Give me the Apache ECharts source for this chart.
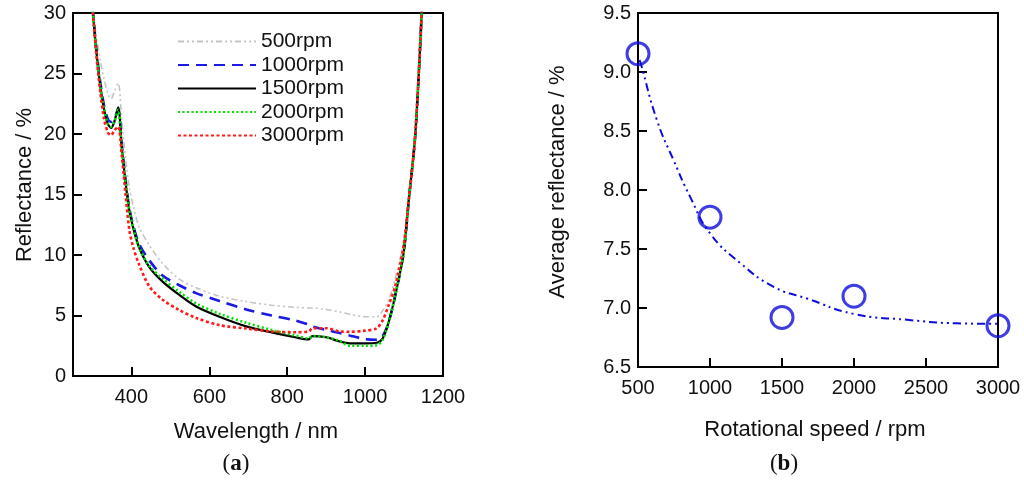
<!DOCTYPE html>
<html>
<head>
<meta charset="utf-8">
<script src="https://cdn.jsdelivr.net/npm/echarts@6.0.0/dist/echarts.min.js"></script>
<style>
html,body{margin:0;padding:0;background:#fff;}
#chart{width:1024px;height:482px;}
</style>
</head>
<body>
<div id="chart"></div>
<script>
// ---- Panel (a): reflectance spectra ----
var wavelength = [300,310,320,330,340,348,356,366,375,385,395,405,420,446,480,523,566,626,695,760,820,855,865,900,935,960,1000,1030,1045,1060,1077,1099,1112,1129,1146];
var r500  = [30.5,28.0,26.1,24.5,23.3,22.9,23.5,24.2,21.2,18.0,15.5,14.0,12.3,10.8,9.3,8.0,7.3,6.6,6.15,5.85,5.68,5.62,5.62,5.5,5.3,5.1,4.9,4.9,5.4,6.3,8.0,11.2,15.0,20.5,30.5];
var r1000 = [30.5,27.0,24.3,22.3,21.2,21.0,21.3,22.0,19.2,16.2,13.8,12.4,10.9,9.55,8.3,7.5,6.85,6.2,5.5,5.0,4.6,4.25,4.1,3.8,3.55,3.35,3.05,3.0,3.3,4.4,6.6,10.2,14.5,20.0,30.5];
var r1500 = [30.5,26.8,24.0,22.0,20.8,20.5,21.0,22.2,19.0,16.0,13.6,12.2,10.6,9.0,7.8,6.7,5.75,4.9,4.1,3.6,3.2,3.02,3.3,3.2,2.85,2.7,2.7,2.75,3.1,4.4,6.6,10.2,14.5,20.0,30.5];
var r2000 = [30.5,26.8,24.0,22.0,20.8,20.6,21.0,22.0,19.0,16.0,13.6,12.2,10.6,9.1,8.05,6.95,6.0,5.15,4.4,3.8,3.35,3.12,3.3,3.2,2.9,2.5,2.5,2.55,3.0,4.4,6.6,10.2,14.5,20.0,30.5];
var r3000 = [30.5,26.5,23.5,21.2,20.1,19.9,20.3,20.6,18.3,15.0,12.0,10.6,9.2,7.4,6.3,5.45,4.8,4.2,3.92,3.68,3.62,3.68,3.95,3.95,3.68,3.65,3.75,3.95,4.6,5.8,7.4,10.8,14.5,20.0,30.5];
var seriesNames = ['500rpm','1000rpm','1500rpm','2000rpm','3000rpm'];
var wlTicks = [400,600,800,1000,1200];

// ---- Panel (b): average reflectance vs rotational speed ----
var speeds = [500,1000,1500,2000,3000];
var avgRefl = [9.155,7.77,6.92,7.10,6.85];
var fitX = [510,516,632,748,863,1002,1211,1442,1674,1998,2368,2715,2993];
var fitY = [9.10,9.085,8.59,8.25,7.94,7.63,7.38,7.18,7.08,6.95,6.90,6.87,6.866];

var FONT = '"Liberation Sans", Arial, sans-serif';
var BLUE = '#0c0cdc';
function pairs(xs, ys){ return xs.map(function(x,i){ return [x, ys[i]]; }); }

var axisLineStyle = {show:true, lineStyle:{color:'#000', width:2}};
var tickStyle = {show:true, inside:true, length:9, lineStyle:{color:'#000', width:2}};
var labelBase = {fontSize:20, color:'#111', fontFamily:FONT};

var lineStyles = [
  {color:'#c4c4c4', width:1.6, type:[6,3,2,3,2,3]},
  {color:'#1a1ae6', width:2.6, type:[11,7]},
  {color:'#000000', width:2.2, type:'solid'},
  {color:'#00e000', width:2.6, type:[2,2.5]},
  {color:'#ff1a1a', width:2.6, type:[3,2.5]}
];
var dataSets = [r500, r1000, r1500, r2000, r3000];

var series = dataSets.map(function(d, i){
  return {
    name: seriesNames[i], type:'line', xAxisIndex:0, yAxisIndex:0,
    data: pairs(wavelength, d), symbol:'none', smooth:0.3,
    lineStyle: lineStyles[i], itemStyle:{color: lineStyles[i].color}, clip:true, z: 2+i
  };
});
series.push({
  name:'fit', type:'line', xAxisIndex:1, yAxisIndex:1, data: pairs(fitX, fitY),
  symbol:'none', smooth:0.5, lineStyle:{color:BLUE, width:2, type:[8,4,2,4,2,4]}, z:3
});
series.push({
  name:'avg', type:'scatter', xAxisIndex:1, yAxisIndex:1, data: pairs(speeds, avgRefl),
  symbol:'circle', symbolSize:22, clip:false,
  itemStyle:{color:'rgba(0,0,0,0)', borderColor:BLUE, borderWidth:3}, z:4
});

function plain(v){ return String(v); }

var option = {
  animation:false,
  backgroundColor:'#fff',
  grid:[
    {left:73, top:13, width:370, height:363, show:true, borderColor:'#000', borderWidth:2},
    {left:638, top:13, width:360, height:354, show:true, borderColor:'#000', borderWidth:2}
  ],
  xAxis:[
    {type:'value', gridIndex:0, min:250, max:1200, axisLine:axisLineStyle,
     axisTick:Object.assign({}, tickStyle, {customValues:wlTicks}),
     axisLabel:Object.assign({}, labelBase, {margin:11, customValues:wlTicks, formatter:plain}),
     splitLine:{show:false}},
    {type:'value', gridIndex:1, min:500, max:3000, interval:500, axisLine:axisLineStyle,
     axisTick:tickStyle, axisLabel:Object.assign({}, labelBase, {margin:11, showMinLabel:true, showMaxLabel:true, formatter:plain}),
     splitLine:{show:false}}
  ],
  yAxis:[
    {type:'value', gridIndex:0, min:0, max:30, interval:5, axisLine:axisLineStyle,
     axisTick:tickStyle, axisLabel:Object.assign({}, labelBase, {margin:7, formatter:plain}), splitLine:{show:false}},
    {type:'value', gridIndex:1, min:6.5, max:9.5, interval:0.5, axisLine:axisLineStyle,
     axisTick:tickStyle, axisLabel:Object.assign({}, labelBase, {margin:7, formatter:function(v){return v.toFixed(1);}}),
     splitLine:{show:false}}
  ],
  legend:{
    data:seriesNames, orient:'vertical', left:177, top:31, padding:0,
    itemWidth:78, itemHeight:14, itemGap:2.5, itemStyle:{opacity:0},
    textStyle:{fontSize:21, color:'#111', fontFamily:FONT}, selectedMode:false
  },
  graphic:[
    {type:'text', x:25, y:185, rotation:Math.PI/2,
     style:{text:'Reflectance / %', font:'22px '+FONT, fill:'#111', align:'center', verticalAlign:'middle'}},
    {type:'text', x:256, y:432,
     style:{text:'Wavelength / nm', font:'22px '+FONT, fill:'#111', align:'center', verticalAlign:'middle'}},
    {type:'text', x:558, y:182, rotation:Math.PI/2,
     style:{text:'Average reflectance / %', font:'22px '+FONT, fill:'#111', align:'center', verticalAlign:'middle'}},
    {type:'text', x:815, y:430,
     style:{text:'Rotational speed / rpm', font:'22px '+FONT, fill:'#111', align:'center', verticalAlign:'middle'}},
    {type:'text', x:236, y:464,
     style:{text:'{p|(}{b|a}{p|)}', align:'center', verticalAlign:'middle',
       rich:{p:{fontSize:23, fontFamily:'"Liberation Serif", serif', fill:'#111'},
             b:{fontSize:23, fontWeight:'bold', fontFamily:'"Liberation Serif", serif', fill:'#111'}}}},
    {type:'text', x:784, y:464,
     style:{text:'{p|(}{b|b}{p|)}', align:'center', verticalAlign:'middle',
       rich:{p:{fontSize:23, fontFamily:'"Liberation Serif", serif', fill:'#111'},
             b:{fontSize:23, fontWeight:'bold', fontFamily:'"Liberation Serif", serif', fill:'#111'}}}}
  ],
  series:series
};

var chart = echarts.init(document.getElementById('chart'), null, {renderer:'canvas'});
chart.setOption(option);
</script>
</body>
</html>
